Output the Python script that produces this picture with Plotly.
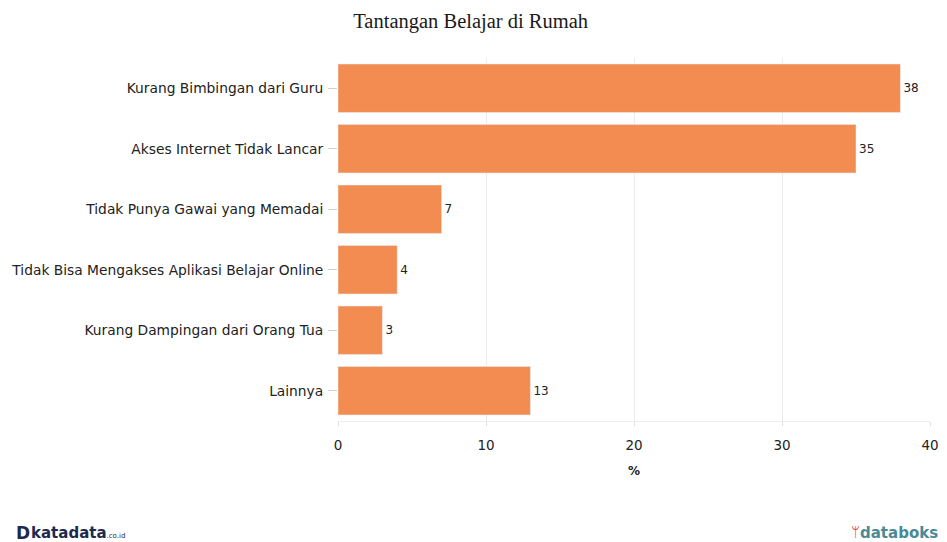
import plotly.graph_objects as go

categories = [
    "Kurang Bimbingan dari Guru",
    "Akses Internet Tidak Lancar",
    "Tidak Punya Gawai yang Memadai",
    "Tidak Bisa Mengakses Aplikasi Belajar Online",
    "Kurang Dampingan dari Orang Tua",
    "Lainnya",
]
values = [38, 35, 7, 4, 3, 13]
x_ticks = [0, 10, 20, 30, 40]

fig = go.Figure(go.Bar(
    x=values, y=categories, orientation="h",
    marker=dict(color="#F28C50"),
    text=[str(v) for v in values], textposition="outside",
    textfont=dict(family="DejaVu Sans, Verdana", size=12, color="#222"),
    cliponaxis=False,
))

fig.update_layout(
    width=947, height=542,
    margin=dict(l=338, r=17, t=58, b=121),
    paper_bgcolor="white", plot_bgcolor="white",
    bargap=0.2,
    showlegend=False,
    title=dict(text="Tantangan Belajar di Rumah", x=0.497, xanchor="center", y=0.962, yanchor="middle",
               font=dict(family="Liberation Serif, Times New Roman", size=20.5, color="#1a1a1a")),
    font=dict(family="DejaVu Sans, Verdana", size=12, color="#222"),
    xaxis=dict(range=[0, 40], tickvals=x_ticks, showgrid=True, gridcolor="#ececec",
               zeroline=False, ticks="outside", ticklen=4, tickcolor="#e0e0e0",
               showline=True, linecolor="#eeeeee", ticklabelstandoff=8, automargin=False,
               tickfont=dict(size=13.5, color="#222"),
               title=dict(text="<b>%</b>", font=dict(size=12, color="#222"), standoff=14)),
    yaxis=dict(autorange="reversed", ticks="outside", ticklen=9, tickcolor="#d0d0d0",
               showgrid=False, ticklabelstandoff=2, automargin=False,
               tickfont=dict(size=13.8, color="#222")),
)

fig.add_annotation(text="<b>D</b>", x=0, y=0, xref="paper", yref="paper",
                   xanchor="left", yanchor="middle", showarrow=False,
                   font=dict(family="DejaVu Sans", size=17, color="#1d2a4d"),
                   xshift=-324, yshift=-112)
fig.add_annotation(text="<b>katadata</b><span style='font-size:7px'>.co.id</span>", x=0, y=0,
                   xref="paper", yref="paper", xanchor="left", yanchor="middle", showarrow=False,
                   font=dict(family="DejaVu Sans", size=15, color="#1d2a4d"),
                   xshift=-309, yshift=-112)
fig.add_annotation(text="<span style='color:#e0443a'>ᛘ</span><b>databoks</b>", x=1.0, y=0,
                   xref="paper", yref="paper", xanchor="right", yanchor="middle", showarrow=False,
                   font=dict(family="DejaVu Sans", size=15, color="#4a8a96"), xshift=10, yshift=-112)

fig.write_html("out.html")
